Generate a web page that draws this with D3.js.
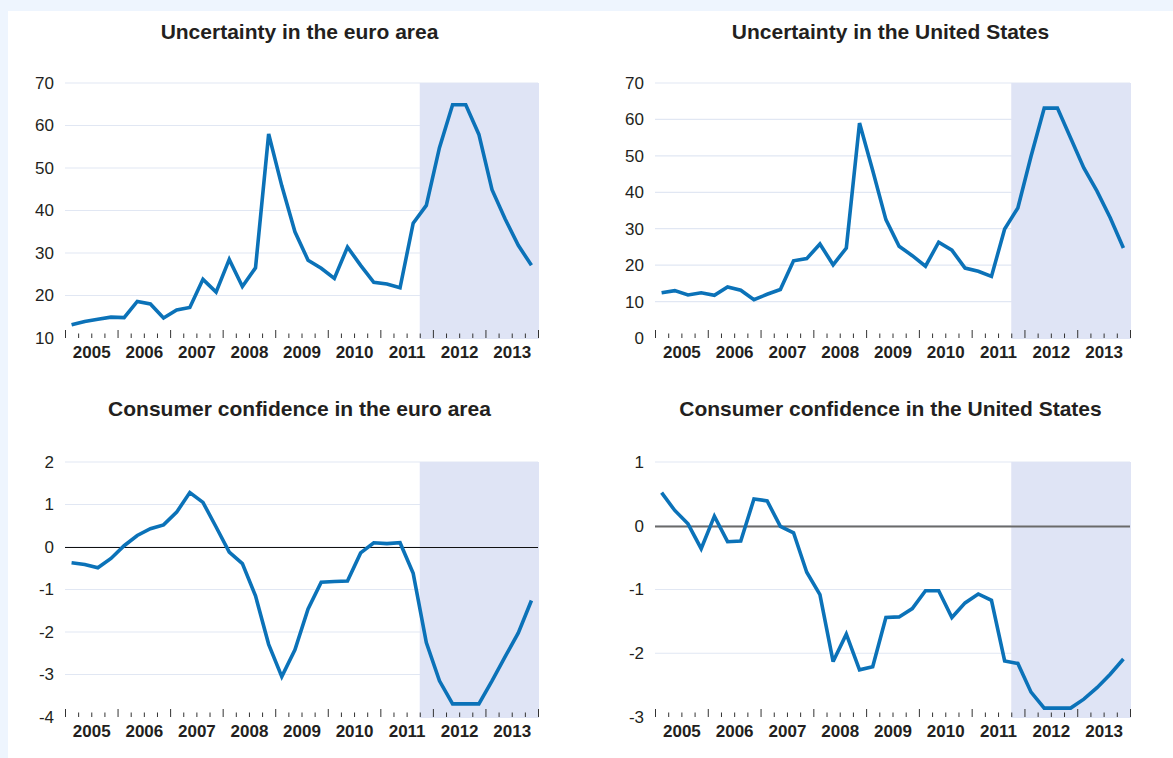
<!DOCTYPE html>
<html>
<head>
<meta charset="utf-8">
<script src="https://cdn.jsdelivr.net/npm/d3@7"></script>
<style>
  html, body { margin: 0; padding: 0; background: #eef5fe; }
  svg { display: block; }
  text { font-family: "Liberation Sans", Arial, Helvetica, sans-serif; fill: #231f20; }
</style>
</head>
<body>
<svg id="chart" width="1173" height="758"></svg>
<script>
// ---------- data (quarterly, 2005Q1 .. 2013Q4) ----------
const years = ["2005","2006","2007","2008","2009","2010","2011","2012","2013"];
const quarters = d3.range(36).map(k => 2005 + (k + 0.5) / 4);

const uncertaintyEA = [13.1, 13.9, 14.4, 14.9, 14.8, 18.6, 18.0, 14.7, 16.6, 17.2,
  23.8, 20.8, 28.5, 22.1, 26.5, 58.0, 45.8, 35.0, 28.3, 26.4,
  24.0, 31.4, 27.1, 23.1, 22.7, 21.8, 37.0, 41.2, 54.8, 64.9,
  64.9, 57.9, 44.9, 38.0, 31.8, 27.1];

const uncertaintyUS = [12.4, 13.0, 11.8, 12.4, 11.7, 14.0, 13.1, 10.5, 12.0, 13.3,
  21.2, 21.8, 25.8, 20.1, 24.7, 59.0, 46.0, 32.5, 25.2, 22.6,
  19.7, 26.3, 24.1, 19.2, 18.3, 16.9, 29.9, 35.7, 49.9, 63.1,
  63.1, 54.9, 46.7, 40.3, 33.0, 24.7];

const confidenceEA = [-0.37, -0.41, -0.49, -0.27, 0.03, 0.27, 0.43, 0.52, 0.82, 1.28,
  1.05, 0.47, -0.12, -0.39, -1.15, -2.29, -3.05, -2.42, -1.46, -0.83,
  -0.81, -0.80, -0.14, 0.10, 0.08, 0.10, -0.62, -2.25, -3.15, -3.69,
  -3.69, -3.69, -3.15, -2.58, -2.02, -1.26];

const confidenceUS = [0.52, 0.24, 0.03, -0.36, 0.15, -0.25, -0.24, 0.42, 0.39, -0.01,
  -0.11, -0.73, -1.08, -2.13, -1.70, -2.26, -2.21, -1.44, -1.43, -1.30,
  -1.02, -1.02, -1.44, -1.21, -1.07, -1.17, -2.12, -2.16, -2.61, -2.86,
  -2.86, -2.86, -2.72, -2.54, -2.33, -2.09];

const titles = ["Uncertainty in the euro area", "Uncertainty in the United States",
  "Consumer confidence in the euro area", "Consumer confidence in the United States"];
const yTicksUncEA = [10, 20, 30, 40, 50, 60, 70];
const yTicksUncUS = [0, 10, 20, 30, 40, 50, 60, 70];
const yTicksConfEA = [-4, -3, -2, -1, 0, 1, 2];
const yTicksConfUS = [-3, -2, -1, 0, 1];
const shadeStart = 2011.75;
const shadeEnd = 2014;

// ---------- drawing ----------
const svg = d3.select("#chart");
svg.append("rect").attr("x", 8).attr("y", 11).attr("width", 1165).attr("height", 747).attr("fill", "#ffffff");

const panels = [
  {title: titles[0], values: uncertaintyEA, ticks: yTicksUncEA, x0: 65, x1: 538, y0: 83, y1: 338, titleY: 39, zero: false},
  {title: titles[1], values: uncertaintyUS, ticks: yTicksUncUS, x0: 655, x1: 1130, y0: 83, y1: 338, titleY: 39, zero: false},
  {title: titles[2], values: confidenceEA, ticks: yTicksConfEA, x0: 65, x1: 538, y0: 462, y1: 717, titleY: 416, zero: true, zeroColor: "#111111", zeroW: 1},
  {title: titles[3], values: confidenceUS, ticks: yTicksConfUS, x0: 655, x1: 1130, y0: 462, y1: 717, titleY: 416, zero: true, zeroColor: "#6a6a6a", zeroW: 1.8}
];

panels.forEach(p => {
  const g = svg.append("g");
  const x = d3.scaleLinear().domain([2005, 2014]).range([p.x0, p.x1]);
  const y = d3.scaleLinear().domain(d3.extent(p.ticks)).range([p.y1, p.y0]);

  // title
  g.append("text")
    .attr("x", (p.x0 + p.x1) / 2 - 2)
    .attr("y", p.titleY)
    .attr("text-anchor", "middle")
    .style("font-size", "21px")
    .style("font-weight", "bold")
    .text(p.title);

  // gridlines
  g.append("g").selectAll("line")
    .data(p.ticks.slice(1))
    .join("line")
    .attr("x1", p.x0).attr("x2", p.x1)
    .attr("y1", d => y(d)).attr("y2", d => y(d))
    .attr("stroke", "#e1e7f3").attr("stroke-width", 1.2);

  // shaded projection period
  g.append("rect")
    .attr("x", x(shadeStart))
    .attr("y", y(d3.max(p.ticks)))
    .attr("width", x(shadeEnd) - x(shadeStart) + 1)
    .attr("height", y(d3.min(p.ticks)) - y(d3.max(p.ticks)) + 1)
    .attr("fill", "#dfe4f5");

  // zero line
  if (p.zero) {
    g.append("line")
      .attr("x1", p.x0).attr("x2", p.x1)
      .attr("y1", Math.round(y(0)) + 0.5).attr("y2", Math.round(y(0)) + 0.5)
      .attr("stroke", p.zeroColor).attr("stroke-width", p.zeroW);
  }

  // y axis labels (plain hyphen for negatives, as in the original)
  const ya = g.append("g").attr("transform", `translate(${p.x0},0)`)
    .call(d3.axisLeft(y).tickValues(p.ticks).tickSize(0).tickPadding(11)
      .tickFormat(d => String(d)));
  ya.select(".domain").remove();
  ya.selectAll("text").style("font-size", "17px").style("font-family", "Liberation Sans, Arial, sans-serif").attr("fill", "#231f20");

  // x ticks (quarterly, year boundaries taller), pointing upward
  const qTicks = d3.range(37).map(k => 2005 + k / 4);
  const xt = g.append("g").attr("transform", `translate(0,${p.y1})`)
    .call(d3.axisBottom(x).tickValues(qTicks).tickSize(-5).tickFormat(""));
  xt.select(".domain").remove();
  xt.selectAll(".tick line")
    .attr("y2", d => (Math.abs(d - Math.round(d)) < 1e-6 ? -8 : -4.5))
    .attr("stroke", "#333").attr("stroke-width", 1);

  // year labels centred in each year
  const xl = g.append("g").attr("transform", `translate(0,${p.y1})`)
    .call(d3.axisBottom(x).tickValues(years.map(v => +v + 0.5)).tickSize(0).tickPadding(8)
      .tickFormat(d => String(Math.floor(d))));
  xl.select(".domain").remove();
  xl.selectAll("text").style("font-size", "17px").style("font-weight", "bold")
    .style("font-family", "Liberation Sans, Arial, sans-serif").attr("fill", "#231f20");

  // series line
  const line = d3.line().x((d, i) => x(quarters[i])).y(d => y(d));
  g.append("path")
    .datum(p.values)
    .attr("d", line)
    .attr("fill", "none")
    .attr("stroke", "#0b72b8")
    .attr("stroke-width", 3.6)
    .attr("stroke-linejoin", "miter")
    .attr("stroke-miterlimit", 3);
});
</script>
</body>
</html>
